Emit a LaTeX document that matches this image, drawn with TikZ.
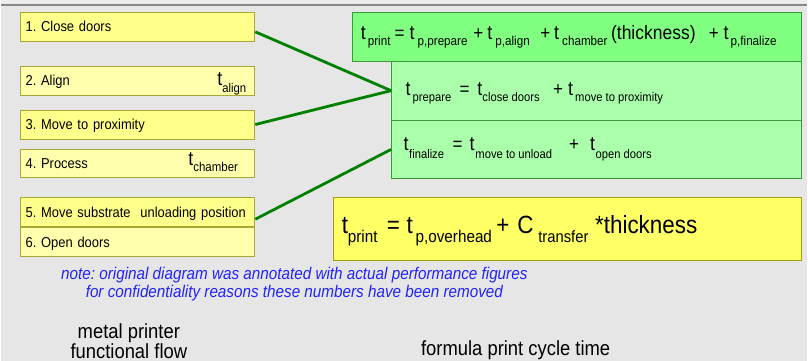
\documentclass[tikz,border=0pt]{standalone}
\usepackage{fontspec}
\setmainfont[FakeStretch=0.9]{Liberation Sans}
\frenchspacing
\definecolor{pagebg}{HTML}{E6E6E6}
\definecolor{topbg}{HTML}{EDEDED}
\definecolor{rulegray}{HTML}{888888}
\definecolor{stepA}{HTML}{FFFF8C}
\definecolor{stepB}{HTML}{FFFFAE}
\definecolor{stepedge}{HTML}{A8A838}
\definecolor{sumfill}{HTML}{80FF80}
\definecolor{partfill}{HTML}{AAFFAA}
\definecolor{greenedge}{HTML}{3A9A3A}
\definecolor{linkgreen}{HTML}{008000}
\definecolor{formfill}{HTML}{FFFF66}
\definecolor{formedge}{HTML}{A0A010}
\definecolor{notecol}{HTML}{2222FF}

% place a piece of a formula at a horizontal offset from the start of its line
\newcommand\putat[2]{\rlap{\hspace{#1}#2}}
% a lowered subscript: \lowsub{drop}{size}{text}
\newcommand\lowsub[3]{\raisebox{-#1}{\fontsize{#2}{#2}\selectfont #3}}
% text at a given size
\newcommand\sz[2]{{\fontsize{#1}{#1}\selectfont #2}}

\tikzset{
  stepbox/.style={draw=stepedge, line width=0.8pt, minimum width=235pt, minimum height=29pt,
    inner xsep=4.8pt, text width=225pt, align=left, text height=10.3pt, text depth=0pt,
    font=\fontsize{14.4}{14.4}\selectfont, anchor=north west},
  sumbox/.style={draw=greenedge, line width=0.8pt, fill=sumfill, anchor=north west},
  partbox/.style={draw=greenedge, line width=0.8pt, fill=partfill, anchor=north west,
    minimum width=411pt, minimum height=59pt},
  link/.style={draw=linkgreen, line width=2.8pt},
  plain/.style={inner sep=0pt, anchor=base west},
}

\begin{document}
\begin{tikzpicture}[x=1pt,y=-1pt]
% page background and top rule
\fill[pagebg] (0,0) rectangle (808,362);
\fill[topbg] (0,0) rectangle (808,3.5);
\draw[rulegray, line width=2.5pt] (0,4.8) -- (808,4.8);
\useasboundingbox (0,0) rectangle (808,362);

% functional flow steps
\node[stepbox, fill=stepA] (b1) at (19,12)  {1. Close doors};
\node[stepbox, fill=stepB] (b2) at (19,66)  {2. Align};
\node[stepbox, fill=stepA] (b3) at (19,110) {3. Move to proximity};
\node[stepbox, fill=stepB] (b4) at (19,149) {4. Process};
\node[stepbox, fill=stepA] (b5) at (19,198) {\mbox{5. Move substrate\hspace{5pt} unloading position}};
\node[stepbox, fill=stepB] (b6) at (19,228) {6. Open doors};

\node[plain] (talign) at (216.5,86) {\sz{20}{t}\lowsub{7pt}{12.6}{align}};
\node[plain] (tchamber) at (187.5,166) {\sz{20}{t}\lowsub{6pt}{12.8}{chamber}};

% cycle time breakdown
\node[sumbox, minimum width=450pt, minimum height=49pt] (sum) at (352,12) {};
\node[partbox] (prep) at (391,61) {};
\node[partbox] (fin) at (391,120) {};

\node[plain] (fsum) at (360,39.7) {\fontsize{19}{19}\selectfont
  \putat{0pt}{\sz{20}{t}}\putat{7pt}{\lowsub{6pt}{13}{print}}%
  \putat{34pt}{=}%
  \putat{49pt}{\sz{20}{t}}\putat{57pt}{\lowsub{6pt}{13}{p,prepare}}%
  \putat{113pt}{+}%
  \putat{127pt}{\sz{20}{t}}\putat{135pt}{\lowsub{6pt}{13}{p,align}}%
  \putat{180pt}{+}%
  \putat{194pt}{\sz{20}{t}}\putat{202pt}{\lowsub{6pt}{13}{chamber}}%
  \putat{251pt}{\sz{19.5}{(thickness)}}%
  \putat{349pt}{+}%
  \putat{364pt}{\sz{20}{t}}\putat{371pt}{\lowsub{6pt}{13}{p,finalize}}};
\node[plain] (fprep) at (405,95.3) {\fontsize{19}{19}\selectfont
  \putat{0pt}{\sz{20}{t}}\putat{7pt}{\lowsub{6.5pt}{12.5}{prepare}}%
  \putat{54pt}{=}%
  \putat{72pt}{\sz{20}{t}}\putat{77pt}{\lowsub{6.5pt}{12.5}{close doors}}%
  \putat{148pt}{+}%
  \putat{163pt}{\sz{20}{t}}\putat{170pt}{\lowsub{6.5pt}{12.5}{move to proximity}}};
\node[plain] (ffin) at (403,151.3) {\fontsize{19}{19}\selectfont
  \putat{0pt}{\sz{20}{t}}\putat{5.5pt}{\lowsub{8pt}{12.5}{finalize}}%
  \putat{49pt}{=}%
  \putat{66pt}{\sz{20}{t}}\putat{72pt}{\lowsub{8pt}{12.5}{move to unload}}%
  \putat{166pt}{+}%
  \putat{187pt}{\sz{20}{t}}\putat{192.5pt}{\lowsub{8pt}{12.5}{open doors}}};

% connectors from steps to breakdown
\coordinate (p1) at ([yshift=-5pt]b1.east);
\coordinate (p5) at ([yshift=-7pt]b5.east);
\draw[link] (p1) -- (prep.west);
\draw[link] (b3.east) -- (prep.west);
\draw[link] (p5) -- (fin.west);

% overall formula
\node[draw=formedge, line width=0.8pt, fill=formfill, anchor=north west,
  minimum width=469pt, minimum height=63pt] (form) at (333,198) {};
\node[plain] (fform) at (341,234) {\fontsize{25}{25}\selectfont
  \putat{0pt}{t}\putat{6pt}{\lowsub{9pt}{17}{print}}%
  \putat{45pt}{=}%
  \putat{65pt}{t}\putat{74pt}{\lowsub{9pt}{17}{p,overhead}}%
  \putat{155pt}{+}%
  \putat{176pt}{C}\putat{197pt}{\lowsub{9pt}{16.5}{transfer}}%
  \putat{254pt}{*thickness}};

% notes and captions
\node[align=center, text=notecol, inner sep=0pt, anchor=base, font=\fontsize{17}{17.3}\selectfont\itshape]
  (note) at (294,298) {note: original diagram was annotated with actual performance figures\\
  for confidentiality reasons these numbers have been removed};
\node[align=center, inner sep=0pt, anchor=base, font=\fontsize{20.5}{20}\selectfont]
  (capL) at (128,359.5) {metal printer\\functional flow};
\node[inner sep=0pt, anchor=base, font=\fontsize{20.5}{20.5}\selectfont]
  (capR) at (516,357) {formula print cycle time};
\end{tikzpicture}
\end{document}
